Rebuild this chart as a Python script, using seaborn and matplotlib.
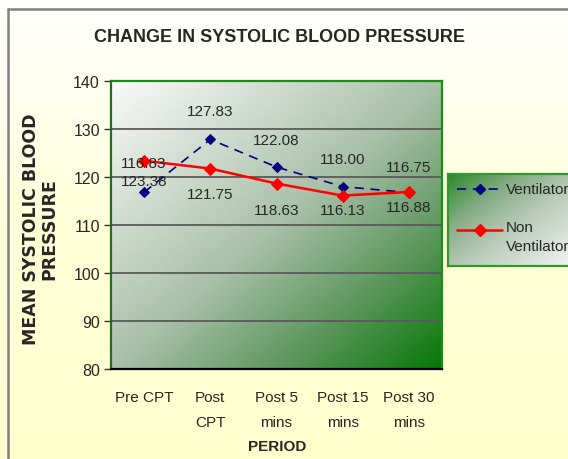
import numpy as np
import pandas as pd
import matplotlib
matplotlib.use("Agg")
import matplotlib.pyplot as plt
import seaborn as sns
from matplotlib.colors import LinearSegmentedColormap
from matplotlib.lines import Line2D

# ---------------- data ----------------
periods = ["Pre CPT", "Post\nCPT", "Post 5\nmins", "Post 15\nmins", "Post 30\nmins"]
ventilator = [116.83, 127.83, 122.08, 118.00, 116.75]
non_ventilator = [123.38, 121.75, 118.63, 116.13, 116.88]
series_names = ["Ventilator", "Non\nVentilator"]
y_ticks = [80, 90, 100, 110, 120, 130, 140]

# label offsets in pixels (negative = above)
vent_label_off = [-29, -28, -27, -28, -26]
non_label_off = [20, 25, 26, 14, 15]

sns.set_style("white")
FONT = ["Liberation Sans", "DejaVu Sans"]
plt.rcParams["font.family"] = FONT
FS = 10.5

W, H = 568, 460
fig = plt.figure(figsize=(W / 100, H / 100), dpi=100)

# background gradient
bg = fig.add_axes([0, 0, 1, 1], zorder=-10)
bg_cmap = LinearSegmentedColormap.from_list("bg", ["#FFFFFF", "#FFFFD8", "#FFFFCE"])
bg.imshow(np.linspace(0, 1, 256).reshape(-1, 1), aspect="auto", cmap=bg_cmap,
          extent=[0, 1, 0, 1], origin="upper")
bg.axis("off")
bg.set_xlim(0, 1)
bg.set_ylim(0, 1)
fig.add_artist(Line2D([8 / W, 1], [1 - 10 / H, 1 - 10 / H], color="#808080", lw=1.8,
                      transform=fig.transFigure))
fig.add_artist(Line2D([8 / W, 8 / W], [0, 1 - 10 / H], color="#808080", lw=1.8,
                      transform=fig.transFigure))

# main axes
ax = fig.add_axes([111 / W, 1 - 370 / H, 331 / W, 288 / H])
ax.patch.set_alpha(0)

df = pd.DataFrame({
    "pos": list(range(len(periods))) * 2,
    "value": ventilator + non_ventilator,
    "series": [series_names[0]] * len(periods) + [series_names[1]] * len(periods),
})

# plot-area gradient
nx, ny = 300, 300
xx, yy = np.meshgrid(np.linspace(0, 1, nx), np.linspace(0, 1, ny))
tt = (xx + yy) / 2
plot_cmap = LinearSegmentedColormap.from_list(
    "pa", [(0, "#FAFAFA"), (0.5, "#A9C0A9"), (0.75, "#5F975F"), (1.0, "#067806")])
ax.imshow(tt, cmap=plot_cmap, aspect="auto", origin="upper",
          extent=[-0.5, len(periods) - 0.5, y_ticks[0], y_ticks[-1]], zorder=-1)

sns.lineplot(data=df[df.series == series_names[0]], x="pos", y="value", ax=ax,
             color="#000080", lw=1.2, marker="D", markersize=5.5,
             markeredgecolor="#000080", dashes=False, zorder=4)
ax.lines[-1].set_dashes([5.5, 4])
sns.lineplot(data=df[df.series == series_names[1]], x="pos", y="value", ax=ax,
             color="#FF0000", lw=1.8, marker="D", markersize=6,
             markeredgecolor="#FF0000", zorder=5)

ax.set_xlim(-0.5, len(periods) - 0.5)
ax.set_ylim(y_ticks[0], y_ticks[-1])
ax.set_yticks(y_ticks)
ax.set_yticklabels([str(v) for v in y_ticks], fontsize=FS + 1)
ax.yaxis.grid(True, color="#5A5A5A", lw=1.3)
ax.xaxis.grid(False)
ax.set_axisbelow(True)

ax.set_xticks(np.arange(-0.5, len(periods), 1.0))
ax.set_xticklabels([""] * (len(periods) + 1))
ax.set_xticks(np.arange(len(periods)), minor=True)
ax.set_xticklabels(periods, minor=True, fontsize=FS + 0.5, linespacing=2.0)
ax.tick_params(axis="x", which="major", direction="out", length=5, width=1, color="#555555")
ax.tick_params(axis="x", which="minor", length=0, pad=15)
ax.tick_params(axis="y", direction="out", length=5, width=1, color="#333333", pad=3,
               left=True)
ax.set_xlabel("")
ax.set_ylabel("")

for side in ["top", "right", "left"]:
    ax.spines[side].set_color("#1A8C1A")
    ax.spines[side].set_linewidth(1.6)
ax.spines["left"].set_color("#1F6F1F")
ax.spines["bottom"].set_color("black")
ax.spines["bottom"].set_linewidth(1.6)

# data labels
for i, v in enumerate(ventilator):
    ax.annotate(f"{v:.2f}", (i, v), xytext=(0, -vent_label_off[i] * 0.72),
                textcoords="offset points", ha="center", va="center", fontsize=FS + 0.5,
                zorder=6)
for i, v in enumerate(non_ventilator):
    ax.annotate(f"{v:.2f}", (i, v), xytext=(0, -non_label_off[i] * 0.72),
                textcoords="offset points", ha="center", va="center", fontsize=FS + 0.5,
                zorder=6)

# titles
fig.text(280 / W, 1 - 38 / H, "CHANGE IN SYSTOLIC BLOOD PRESSURE", ha="center", va="center",
         fontsize=13, fontweight="bold")
fig.text(40 / W, 1 - 229 / H, "MEAN SYSTOLIC BLOOD\nPRESSURE", rotation=90, ha="center",
         va="center", multialignment="center", fontsize=12.5, fontweight="bold",
         family=["DejaVu Sans"], linespacing=1.0)
fig.text(277 / W, 1 - 447 / H, "PERIOD", ha="center", va="center", fontsize=FS + 0.5,
         fontweight="bold")

# legend box
lax = fig.add_axes([448 / W, 1 - 267 / H, 125 / W, 92 / H])
leg_cmap = LinearSegmentedColormap.from_list(
    "lg", [(0, "#2A8A2A"), (0.3, "#86AE86"), (0.55, "#B8CAB8"), (1.0, "#F4F4F4")])
lax.imshow(tt, cmap=leg_cmap, aspect="auto", origin="upper", extent=[0, 1, 0, 1])
lax.set_xlim(0, 1)
lax.set_ylim(0, 1)
lax.set_xticks([])
lax.set_yticks([])
for s in lax.spines.values():
    s.set_color("#2E9A2E")
    s.set_linewidth(1.6)

y1 = (267 - 190) / 92
y2 = (267 - 231) / 92
l1 = Line2D([0.072, 0.432], [y1, y1], color="#000080", lw=1.2, transform=lax.transAxes)
l1.set_dashes([5.5, 4])
lax.add_line(l1)
lax.add_line(Line2D([0.256], [y1], color="#000080", marker="D", markersize=5.5,
                    transform=lax.transAxes))
lax.add_line(Line2D([0.072, 0.432], [y2, y2], color="#FF0000", lw=1.8,
                    transform=lax.transAxes))
lax.add_line(Line2D([0.256], [y2], color="#FF0000", marker="D", markersize=6,
                    transform=lax.transAxes))
lax.text(0.464, y1, series_names[0], transform=lax.transAxes, ha="left", va="center",
         fontsize=FS + 0.5)
lax.text(0.464, y2 + 10 / 92, series_names[1], transform=lax.transAxes, ha="left", va="top",
         fontsize=FS + 0.5, linespacing=1.45)

fig.savefig("out.png", dpi=100)
